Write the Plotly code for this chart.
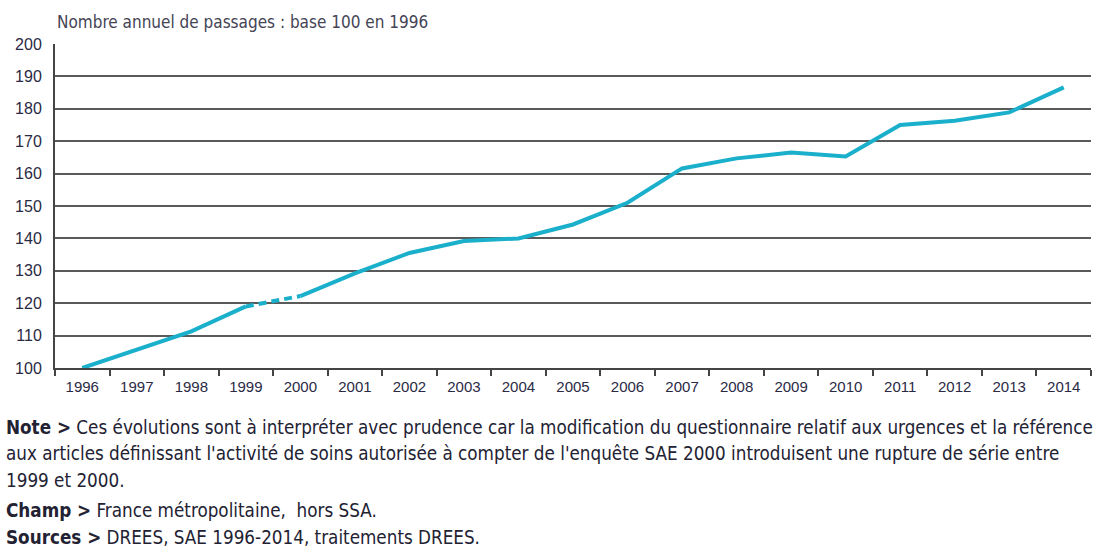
import plotly.graph_objects as go

years = ["1996", "1997", "1998", "1999", "2000", "2001", "2002", "2003", "2004", "2005",
         "2006", "2007", "2008", "2009", "2010", "2011", "2012", "2013", "2014"]
values = [100, 105.5, 111.3, 119.0, 122.2, 129.2, 135.5, 139.2, 140.0, 144.3,
          151.0, 161.6, 164.7, 166.5, 165.3, 175.0, 176.3, 178.9, 186.6]
y_ticks = [100, 110, 120, 130, 140, 150, 160, 170, 180, 190, 200]

title_text = "Nombre annuel de passages : base 100 en 1996"
note_lines = [
    "<b>Note ></b> Ces évolutions sont à interpréter avec prudence car la modification du questionnaire relatif aux urgences et la référence",
    "aux articles définissant l'activité de soins autorisée à compter de l'enquête SAE 2000 introduisent une rupture de série entre",
    "1999 et 2000.",
    "<b>Champ ></b> France métropolitaine,  hors SSA.",
    "<b>Sources ></b> DREES, SAE 1996-2014, traitements DREES.",
]

LINE_COLOR = "#1AAFCB"
NARROW = "DejaVu Sans Condensed, Liberation Sans Narrow, Liberation Sans, Arial"
brk = years.index("1999")
brk2 = years.index("2000")

L, R, T, B = 55, 9, 44, 180
PW = 1100 - L - R
PH = 548 - T - B

fig = go.Figure()
fig.add_trace(go.Scatter(x=years[:brk + 1], y=values[:brk + 1], mode="lines",
                         line=dict(color=LINE_COLOR, width=4), hoverinfo="skip"))
fig.add_trace(go.Scatter(x=years[brk:brk2 + 1], y=values[brk:brk2 + 1], mode="lines",
                         line=dict(color=LINE_COLOR, width=4, dash="8px,5px"), hoverinfo="skip"))
fig.add_trace(go.Scatter(x=years[brk2:], y=values[brk2:], mode="lines",
                         line=dict(color=LINE_COLOR, width=4), hoverinfo="skip"))

fig.update_layout(
    width=1100, height=548,
    margin=dict(l=L, r=R, t=T, b=B),
    paper_bgcolor="white", plot_bgcolor="white",
    showlegend=False,
    font=dict(family="Liberation Sans, Arial", color="#333333"),
    xaxis=dict(type="category", categoryorder="array", categoryarray=years,
               range=[-0.5, len(years) - 0.5], tickson="boundaries",
               ticks="outside", ticklen=6, tickwidth=2, tickcolor="#444444",
               showline=True, linecolor="#444444", linewidth=2,
               showgrid=False, ticklabelstandoff=4,
               tickfont=dict(size=15, color="#2a2a44")),
    yaxis=dict(range=[100, 200], tickvals=y_ticks, showgrid=True,
               gridcolor="#5a5a5a", gridwidth=2, showline=True, linecolor="#444444",
               linewidth=2, ticks="", zeroline=False, ticklabelstandoff=8,
               tickfont=dict(size=16, color="#2a2a44")),
)

fig.add_annotation(text=title_text, xref="paper", yref="paper", x=0, y=1 + (T - 22) / PH,
                   xanchor="left", yanchor="middle", showarrow=False,
                   font=dict(size=17, color="#444455", family=NARROW))

note_y = [427, 453, 480, 510, 537]
for txt, yp in zip(note_lines, note_y):
    fig.add_annotation(text=txt, xref="paper", yref="paper",
                       x=-(L - 4) / PW, y=1 - (yp - T) / PH, xanchor="left", yanchor="middle",
                       showarrow=False, align="left",
                       font=dict(size=18.7, color="#222233", family=NARROW))

fig.write_html("out.html", config={"displayModeBar": False},
               post_script="document.body.style.margin='0';window.dispatchEvent(new Event('resize'));")
